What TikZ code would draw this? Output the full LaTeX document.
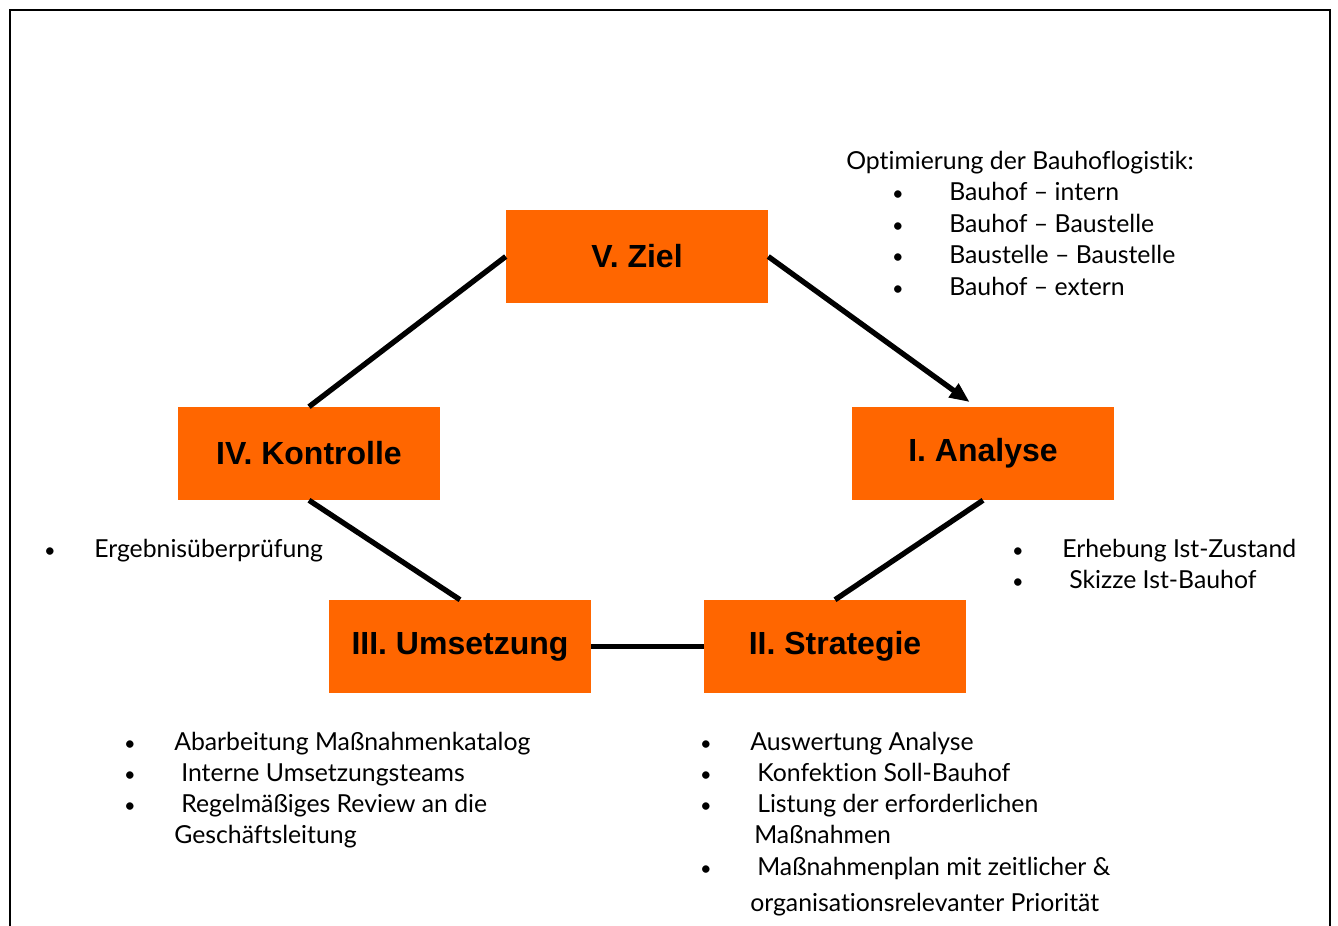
\documentclass[tikz,border=0pt]{standalone}
\usepackage{fontspec}
\setmainfont{Lato}[Ligatures={NoCommon}]
\newfontfamily\boxfont{Liberation Sans}
\usetikzlibrary{arrows.meta}
\definecolor{boxorange}{HTML}{FF6600}
\begin{document}
\begin{tikzpicture}[x=0.75pt,y=-0.75pt,
  stagebox/.style={fill=boxorange, minimum width=196.5pt, minimum height=69.75pt, inner sep=0pt,
    font=\boxfont\bfseries\fontsize{24}{28}\selectfont, text=black},
  link/.style={line width=4pt},
  txt/.style={anchor=base west, inner sep=0pt, font=\fontsize{18.6}{23}\selectfont},
  bul/.style={anchor=base, inner sep=0pt, font=\fontsize{15}{23}\selectfont}]
\useasboundingbox (0,0) rectangle (1338,925);
\draw[line width=1.5pt] (10,926) -- (10,9.5) -- (1330,9.5) -- (1330,926);

% stage boxes
\node[stagebox] (ziel) at (637,256.5) {V. Ziel};
\node[stagebox] (kontrolle) at (309,453.5) {IV. Kontrolle};
\node[stagebox] (analyse) at (983,453.5) {I. Analyse};
\node[stagebox] (umsetzung) at (460,646.5) {III. Umsetzung};
\node[stagebox] (strategie) at (835,646.5) {II. Strategie};

% connectors
\draw[link] (ziel.west) -- (kontrolle.north);
\draw[link, -{Triangle[length=15pt,width=12pt]}] (ziel.east) -- ([xshift=-10pt,yshift=3.5pt]analyse.north);
\draw[link] (analyse.south) -- (strategie.north);
\draw[link] (kontrolle.south) -- (umsetzung.north);
\draw[link] (umsetzung.east) -- (strategie.west);

% top right text
\node[txt] (oh) at (846,169) {Optimierung der Bauhoflogistik:};
\node[bul] (ob1) at (898,200) {\textbullet};
\node[txt] (o1) at (949,200) {Bauhof – intern};
\node[bul] (ob2) at (898,232) {\textbullet};
\node[txt] (o2) at (949,232) {Bauhof – Baustelle};
\node[bul] (ob3) at (898,263) {\textbullet};
\node[txt] (o3) at (949,263) {Baustelle – Baustelle};
\node[bul] (ob4) at (898,295) {\textbullet};
\node[txt] (o4) at (949,295) {Bauhof – extern};

% analyse text
\node[bul] (ab1) at (1018,557) {\textbullet};
\node[txt] (a1) at (1062,557) {Erhebung Ist-Zustand};
\node[bul] (ab2) at (1018,588) {\textbullet};
\node[txt] (a2) at (1069,588) {Skizze Ist-Bauhof};

% kontrolle text
\node[bul] (kb1) at (50,557) {\textbullet};
\node[txt] (k1) at (94,557) {Ergebnisüberprüfung};

% umsetzung text
\node[bul] (ub1) at (130,750) {\textbullet};
\node[txt] (u1) at (174,750) {Abarbeitung Maßnahmenkatalog};
\node[bul] (ub2) at (130,781) {\textbullet};
\node[txt] (u2) at (181,781) {Interne Umsetzungsteams};
\node[bul] (ub3) at (130,812) {\textbullet};
\node[txt] (u3) at (181,812) {Regelmäßiges Review an die};
\node[txt] (u4) at (174,843) {Geschäftsleitung};

% strategie text
\node[bul] (sb1) at (706,750) {\textbullet};
\node[txt] (s1) at (750,750) {Auswertung Analyse};
\node[bul] (sb2) at (706,781) {\textbullet};
\node[txt] (s2) at (757,781) {Konfektion Soll-Bauhof};
\node[bul] (sb3) at (706,812) {\textbullet};
\node[txt] (s3) at (757,812) {Listung der erforderlichen};
\node[txt] (s4) at (754,843) {Maßnahmen};
\node[bul] (sb4) at (706,875) {\textbullet};
\node[txt] (s5) at (757,875) {Maßnahmenplan mit zeitlicher \&};
\node[txt] (s6) at (750,911) {organisationsrelevanter Priorität};
\end{tikzpicture}
\end{document}
